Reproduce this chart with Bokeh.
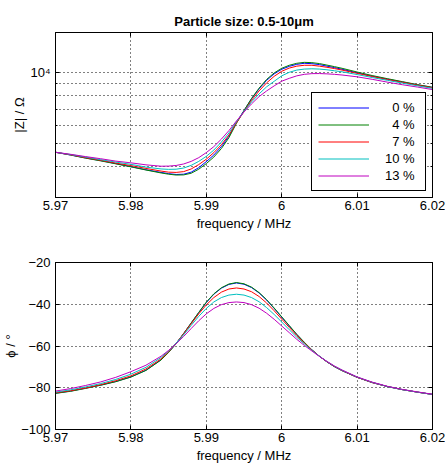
from bokeh.plotting import figure
from bokeh.layouts import column
from bokeh.models import FixedTicker, LogAxis, LinearAxis, Range1d, CustomJSTickFormatter
from bokeh.embed import file_html
from bokeh.resources import INLINE

FONT = "Liberation Sans"

# ---------------- data ----------------
freq = [5.970, 5.972, 5.974, 5.976, 5.978, 5.980, 5.982, 5.984,
        5.985, 5.986, 5.987, 5.988, 5.989, 5.990, 5.991, 5.992, 5.993, 5.994,
        5.995, 5.996, 5.997, 5.998, 5.999, 6.000, 6.001, 6.002, 6.003, 6.004,
        6.005, 6.006, 6.007, 6.008,
        6.010, 6.012, 6.014, 6.016, 6.018, 6.020]

z_0 = [4610, 4490, 4360, 4250, 4130, 4010, 3890, 3790,
       3745, 3715, 3725, 3800, 3970, 4210, 4490, 4870, 5390, 6160,
       6920, 7750, 8540, 9280, 9880, 10330, 10630, 10840, 10950, 10910,
       10810, 10650, 10500, 10330,
       9980, 9660, 9390, 9130, 8880, 8660]
z_4 = [4610, 4490, 4355, 4240, 4120, 4000, 3880, 3770,
       3725, 3695, 3700, 3760, 3910, 4130, 4400, 4780, 5310, 6110,
       6910, 7780, 8600, 9360, 9970, 10430, 10740, 10950, 11050, 11020,
       10920, 10760, 10600, 10430,
       10060, 9720, 9430, 9160, 8900, 8670]
z_7 = [4610, 4500, 4375, 4265, 4150, 4050, 3940, 3840,
       3800, 3790, 3820, 3920, 4090, 4310, 4595, 4960, 5450, 6140,
       6850, 7630, 8370, 9050, 9645, 10130, 10450, 10650, 10740, 10740,
       10650, 10530, 10400, 10250,
       9930, 9630, 9350, 9100, 8850, 8630]
z_10 = [4610, 4510, 4400, 4290, 4190, 4100, 3990, 3920,
        3905, 3910, 3955, 4060, 4220, 4430, 4710, 5090, 5560, 6200,
        6850, 7520, 8130, 8710, 9190, 9690, 10030, 10250, 10350, 10380,
        10350, 10280, 10180, 10080,
        9815, 9535, 9280, 9030, 8800, 8580]
z_13 = [4610, 4520, 4420, 4330, 4230, 4160, 4080, 4025,
        4030, 4055, 4115, 4220, 4375, 4595, 4870, 5240, 5690, 6250,
        6820, 7380, 7920, 8370, 8790, 9200, 9460, 9690, 9835, 9900,
        9910, 9880, 9835, 9770,
        9600, 9370, 9120, 8890, 8690, 8480]

phi_0 = [-82.6, -81.6, -80.2, -78.7, -77.0, -74.8, -71.6, -66.6,
         -63.0, -58.8, -54.0, -49.0, -44.0, -39.2, -35.2, -32.3, -30.5, -29.8,
         -30.4, -32.0, -34.6, -38.0, -42.0, -46.2, -50.4, -54.5, -58.3, -61.8,
         -64.9, -67.6, -69.9, -71.8,
         -75.0, -77.5, -79.4, -80.9, -82.1, -83.2]
phi_4 = [-82.7, -81.7, -80.3, -78.8, -77.1, -74.9, -71.7, -66.7,
         -63.1, -58.9, -54.0, -48.9, -43.9, -39.0, -35.0, -32.1, -30.3, -29.6,
         -30.2, -31.8, -34.4, -37.8, -41.8, -46.0, -50.2, -54.4, -58.2, -61.8,
         -64.9, -67.6, -69.9, -71.8,
         -75.0, -77.5, -79.4, -80.9, -82.1, -83.2]
phi_7 = [-82.4, -81.4, -80.1, -78.5, -76.6, -74.3, -71.0, -66.2,
         -62.8, -58.7, -54.1, -49.3, -44.6, -40.3, -36.8, -34.2, -32.7, -32.2,
         -32.7, -34.0, -36.3, -39.4, -43.1, -47.1, -51.1, -55.0, -58.6, -61.9,
         -64.9, -67.5, -69.8, -71.7,
         -75.0, -77.5, -79.4, -80.9, -82.1, -83.2]
phi_10 = [-82.1, -81.0, -79.6, -78.0, -76.0, -73.5, -70.2, -65.5,
          -62.4, -58.6, -54.6, -50.1, -45.8, -42.0, -38.9, -36.8, -35.6, -35.2,
          -35.6, -36.8, -38.8, -41.6, -44.9, -48.5, -52.2, -55.8, -59.0, -62.1,
          -64.9, -67.4, -69.7, -71.6,
          -74.9, -77.4, -79.4, -80.9, -82.1, -83.2]
phi_13 = [-81.6, -80.4, -78.9, -77.2, -75.0, -72.3, -69.2, -64.9,
          -62.1, -58.9, -55.4, -51.6, -47.9, -44.6, -42.0, -40.2, -39.2, -38.9,
          -39.2, -40.2, -41.9, -44.3, -47.2, -50.4, -53.6, -56.8, -59.7, -62.4,
          -65.0, -67.4, -69.6, -71.5,
          -74.8, -77.3, -79.3, -80.8, -82.0, -83.1]

series_labels = ["\u20070 %", "\u20074 %", "\u20077 %", "10 %", "13 %"]
colors = ["#0000ff", "#008000", "#ff0000", "#00bfbf", "#bf00bf"]

x_ticks = [5.97, 5.98, 5.99, 6.00, 6.01, 6.02]
z_major_ticks = [10000]
z_minor_ticks = [4000, 5000, 6000, 7000, 8000, 9000]
phi_ticks = [-100, -80, -60, -40, -20]

z_series = [z_0, z_4, z_7, z_10, z_13]
phi_series = [phi_0, phi_4, phi_7, phi_10, phi_13]


def style_axis(ax, show_labels=True, tick_standoff=3, label_standoff=3):
    ax.axis_line_color = "black"
    ax.axis_line_width = 1
    ax.major_tick_line_color = "black"
    ax.minor_tick_line_color = "black"
    ax.major_tick_in = 4
    ax.major_tick_out = 0
    ax.minor_tick_in = 2
    ax.minor_tick_out = 0
    ax.major_label_text_font = FONT
    ax.major_label_text_color = "black"
    if show_labels:
        ax.major_label_text_font_size = "13px"
        ax.major_label_standoff = tick_standoff
    else:
        ax.formatter = CustomJSTickFormatter(code="return '';")
        ax.major_label_text_font_size = "2px"
        ax.major_label_standoff = 0
    ax.axis_label_text_font = FONT
    ax.axis_label_text_font_size = "13px"
    ax.axis_label_text_font_style = "normal"
    ax.axis_label_text_color = "black"
    ax.axis_label_standoff = label_standoff


def style_grid(g, minor=False):
    g.grid_line_color = "black"
    g.grid_line_dash = "1 3"
    g.grid_line_width = 1
    g.grid_line_alpha = 1
    if minor:
        g.minor_grid_line_color = "black"
        g.minor_grid_line_dash = "1 3"
        g.minor_grid_line_width = 1
        g.minor_grid_line_alpha = 1


def xfmt():
    return CustomJSTickFormatter(code="return String(parseFloat(tick.toFixed(2)));")


# ---------------- top: |Z| ----------------
p1 = figure(width=445, height=240, x_range=Range1d(5.97, 6.02),
            y_range=Range1d(2970, 14770), y_axis_type="log",
            output_backend="svg", toolbar_location=None,
            min_border_left=53, min_border_right=13,
            min_border_top=32, min_border_bottom=43,
            title="Particle size: 0.5-10\u03bcm")
p1.title.align = "center"
p1.title.text_font = FONT
p1.title.text_font_size = "13px"
p1.title.text_font_style = "bold"
p1.title.text_color = "black"
p1.title.standoff = 8
p1.outline_line_color = "black"
p1.outline_line_alpha = 1
p1.background_fill_color = "white"
p1.border_fill_color = "white"

p1.xaxis.ticker = FixedTicker(ticks=x_ticks, minor_ticks=[])
p1.xaxis.formatter = xfmt()
p1.xaxis.axis_label = "frequency / MHz"
p1.yaxis.ticker = FixedTicker(ticks=z_major_ticks, minor_ticks=z_minor_ticks)
p1.yaxis.major_label_overrides = {10000: "10\u2074"}
p1.yaxis.axis_label = "|Z| / \u03a9"
for ax in p1.xaxis:
    style_axis(ax, tick_standoff=3, label_standoff=3)
for ax in p1.yaxis:
    style_axis(ax, tick_standoff=5, label_standoff=0)

r_ax1 = LogAxis(ticker=FixedTicker(ticks=z_major_ticks, minor_ticks=z_minor_ticks))
style_axis(r_ax1, show_labels=False)
p1.add_layout(r_ax1, "right")
t_ax1 = LinearAxis(ticker=FixedTicker(ticks=x_ticks, minor_ticks=[]))
style_axis(t_ax1, show_labels=False)
p1.add_layout(t_ax1, "above")

style_grid(p1.xgrid[0])
style_grid(p1.ygrid[0], minor=True)

for ys, c, lab in zip(z_series, colors, series_labels):
    p1.line(freq, ys, line_color=c, line_width=1, legend_label=lab)

lg = p1.legend[0]
lg.location = "bottom_right"
lg.margin = 6
lg.padding = 6
lg.spacing = 0
lg.glyph_width = 51
lg.glyph_height = 17
lg.label_height = 17
lg.label_width = 34
lg.label_standoff = 16
lg.label_text_font = FONT
lg.label_text_font_size = "13px"
lg.label_text_color = "black"
lg.border_line_color = "black"
lg.border_line_width = 1
lg.border_line_alpha = 1
lg.background_fill_color = "white"
lg.background_fill_alpha = 1

# ---------------- bottom: phase ----------------
p2 = figure(width=445, height=226, x_range=Range1d(5.97, 6.02),
            y_range=Range1d(-100, -20),
            output_backend="svg", toolbar_location=None,
            min_border_left=53, min_border_right=13,
            min_border_top=22, min_border_bottom=37)
p2.outline_line_color = "black"
p2.outline_line_alpha = 1
p2.background_fill_color = "white"
p2.border_fill_color = "white"

p2.xaxis.ticker = FixedTicker(ticks=x_ticks, minor_ticks=[])
p2.xaxis.formatter = xfmt()
p2.xaxis.axis_label = "frequency / MHz"
p2.yaxis.ticker = FixedTicker(ticks=phi_ticks, minor_ticks=[])
p2.yaxis.axis_label = "\u03d5 / \u00b0"
for ax in p2.xaxis:
    style_axis(ax, tick_standoff=3, label_standoff=3)
for ax in p2.yaxis:
    style_axis(ax, tick_standoff=5, label_standoff=0)

r_ax2 = LinearAxis(ticker=FixedTicker(ticks=phi_ticks, minor_ticks=[]))
style_axis(r_ax2, show_labels=False)
p2.add_layout(r_ax2, "right")
t_ax2 = LinearAxis(ticker=FixedTicker(ticks=x_ticks, minor_ticks=[]))
style_axis(t_ax2, show_labels=False)
p2.add_layout(t_ax2, "above")

style_grid(p2.xgrid[0])
style_grid(p2.ygrid[0])

for ys, c in zip(phi_series, colors):
    p2.line(freq, ys, line_color=c, line_width=1)

layout = column(p1, p2)
open("out.html", "w").write(file_html(layout, INLINE))
